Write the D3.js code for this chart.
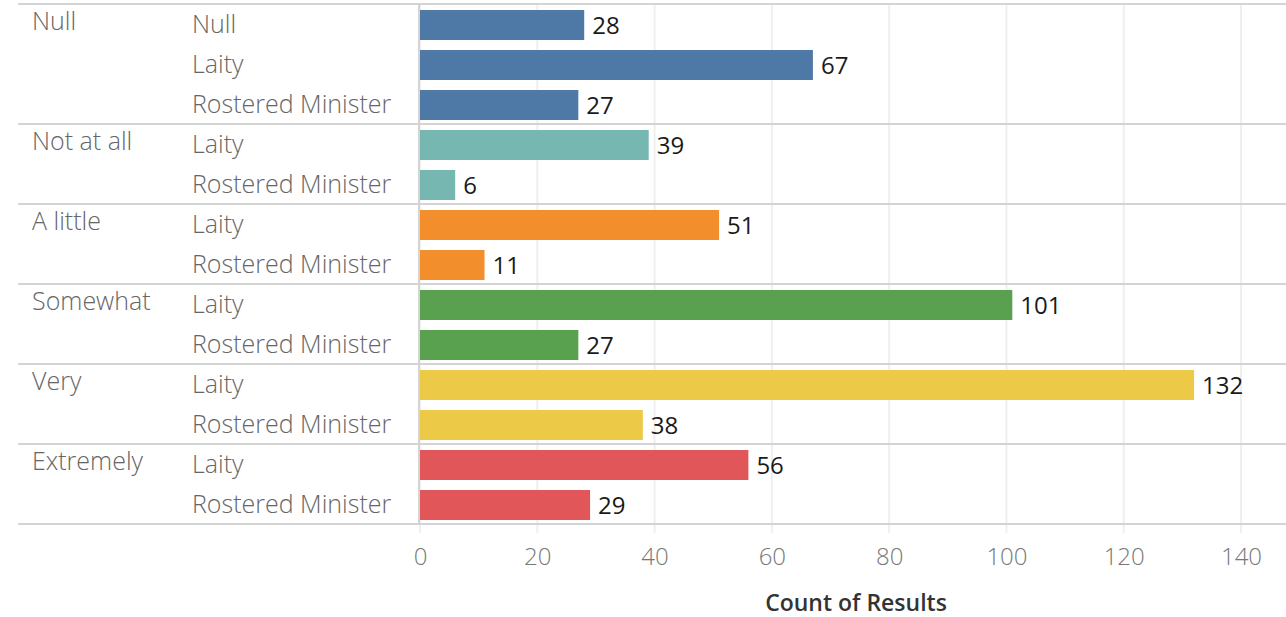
<!DOCTYPE html>
<html>
<head>
<meta charset="utf-8">
<script src="https://cdn.jsdelivr.net/npm/d3@7"></script>
<style>
	body { margin: 0; background: #fff; }
	text { font-family: "Open Sans", sans-serif; }
</style>
</head>
<body>
<svg id="chart" width="1286" height="617"></svg>
<script>
// data
var groups = ["Null", "Not at all", "A little", "Somewhat", "Very", "Extremely"];
var groupRoles = [
	["Null", "Laity", "Rostered Minister"],
	["Laity", "Rostered Minister"],
	["Laity", "Rostered Minister"],
	["Laity", "Rostered Minister"],
	["Laity", "Rostered Minister"],
	["Laity", "Rostered Minister"]
];
var groupCounts = [
	[28, 67, 27],
	[39, 6],
	[51, 11],
	[101, 27],
	[132, 38],
	[56, 29]
];
var groupColors = ["#4e79a7", "#76b7b2", "#f28e2b", "#59a14f", "#edc948", "#e15759"];
var xTicks = [0, 20, 40, 60, 80, 100, 120, 140];

var svg = d3.select("#chart");

// flatten rows
var rows = [];
groups.forEach(function (g, gi) {
	groupRoles[gi].forEach(function (r, ri) {
		rows.push({ group: g, gi: gi, role: r, first: ri === 0, value: groupCounts[gi][ri] });
	});
});

var chartLeft = 18, chartRight = 1286,
	plotLeft = 420, plotTop = 4, plotBottom = 524;

var x = d3.scaleLinear().domain([0, 140]).range([plotLeft, 1241]);
var y = d3.scaleBand()
	.domain(d3.range(rows.length))
	.range([plotTop, plotBottom])
	.paddingInner(0.25)
	.paddingOuter(0.125);
var step = y.step();

function mid(i) { return y(i) + 1 + y.bandwidth() / 2; }

// gridlines
svg.append("g").selectAll("line")
	.data(xTicks)
	.join("line")
	.attr("x1", function (d) { return x(d); })
	.attr("x2", function (d) { return x(d); })
	.attr("y1", plotTop)
	.attr("y2", plotBottom + 9)
	.attr("stroke", "#efefef")
	.attr("stroke-width", 2);

// bars
svg.append("g").selectAll("rect")
	.data(rows)
	.join("rect")
	.attr("x", x(0))
	.attr("y", function (d, i) { return y(i) + 1; })
	.attr("width", function (d) { return x(d.value) - x(0); })
	.attr("height", y.bandwidth())
	.attr("fill", function (d) { return groupColors[d.gi]; });

// value labels
svg.append("g").selectAll("text")
	.data(rows)
	.join("text")
	.attr("x", function (d) { return x(d.value) + 8; })
	.attr("y", function (d, i) { return mid(i) + 9; })
	.attr("font-size", 24)
	.style("font-weight", 400)
	.attr("fill", "#1a1a1a")
	.text(function (d) { return d.value; });

// row labels
svg.append("g").selectAll("text")
	.data(rows)
	.join("text")
	.attr("x", 192)
	.attr("y", function (d, i) { return mid(i) + 8; })
	.attr("font-size", 25)
	.style("font-weight", 300)
	.attr("fill", "#666")
	.text(function (d) { return d.role; });

svg.append("g").selectAll("text")
	.data(rows.filter(function (d) { return d.first; }))
	.join("text")
	.attr("x", 32)
	.attr("y", function (d) { return mid(rows.indexOf(d)) + 5; })
	.attr("font-size", 25)
	.style("font-weight", 300)
	.attr("fill", "#666")
	.text(function (d) { return d.group; });

// group separators
var sepY = [plotTop];
rows.forEach(function (d, i) {
	if (i > 0 && d.first) sepY.push(plotTop + i * step);
});
sepY.push(plotBottom);
svg.append("g").selectAll("line")
	.data(sepY)
	.join("line")
	.attr("x1", chartLeft)
	.attr("x2", chartRight)
	.attr("y1", function (d) { return d; })
	.attr("y2", function (d) { return d; })
	.attr("stroke", "#d4d4d4")
	.attr("stroke-width", 2);

// vertical axis line
svg.append("line")
	.attr("x1", plotLeft - 1).attr("x2", plotLeft - 1)
	.attr("y1", plotTop).attr("y2", plotBottom)
	.attr("stroke", "#d4d4d4")
	.attr("stroke-width", 2);

// x axis
var axis = d3.axisBottom(x).tickValues(xTicks).tickSize(0).tickPadding(0);
var gx = svg.append("g")
	.attr("transform", "translate(0," + (plotBottom + 41) + ")")
	.call(axis);
gx.select(".domain").remove();
gx.selectAll("text")
	.attr("dy", 0)
	.attr("font-size", 24)
	.attr("font-family", "Open Sans, sans-serif")
	.style("font-weight", 300)
	.attr("fill", "#777");

svg.append("text")
	.attr("x", 856)
	.attr("y", 611)
	.attr("text-anchor", "middle")
	.attr("font-size", 23)
	.style("font-weight", 600)
	.attr("fill", "#333")
	.text("Count of Results");
</script>
</body>
</html>
